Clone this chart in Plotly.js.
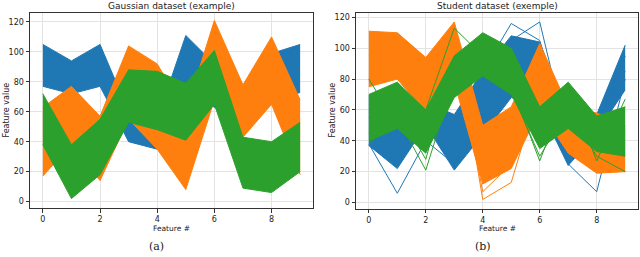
<!DOCTYPE html>
<html><head><meta charset="utf-8">
<script src="https://cdn.plot.ly/plotly-3.0.1.min.js"></script>
<style>html,body{margin:0;padding:0;background:#fff}#chart{width:640px;height:257px}</style>
</head><body><div id="chart"></div>
<script>
// Feature indices
const features = [0,1,2,3,4,5,6,7,8,9];
const xTicks = [0,2,4,6,8];
const yTicks = [0,20,40,60,80,100,120];

// Gaussian dataset: per-class lower / upper envelope of the bundle of lines
const gaussBlueLo   = [77, 72, 77, 40, 35, 75, 63, 50, 65, 73];
const gaussBlueHi   = [105, 94, 105, 60, 55, 111, 92, 75, 99, 105];
const gaussOrangeLo = [17, 38, 14, 55, 35, 8, 68, 43, 65, 18];
const gaussOrangeHi = [63, 77, 57, 104, 92, 60, 121, 78, 110, 68];
const gaussGreenLo  = [38, 2, 18, 53, 48, 41, 65, 9, 6, 20];
const gaussGreenHi  = [72, 38, 55, 88, 87, 79, 101, 43, 40, 53];

// Student dataset: envelopes
const studBlueLo   = [37, 22, 50, 21, 44, 68, 62, 24, 45, 73];
const studBlueHi   = [69, 52, 65, 57, 85, 108, 104, 55, 57, 102];
const studOrangeLo = [75, 80, 58, 78, 12, 22, 60, 32, 19, 20];
const studOrangeHi = [111, 110, 94, 117, 50, 62, 103, 62, 58, 50];
const studGreenLo  = [40, 48, 32, 68, 82, 70, 35, 48, 33, 30];
const studGreenHi  = [70, 78, 60, 95, 110, 100, 62, 78, 56, 62];

// Student dataset: individual outlying samples
const studBlueOut1 = [38, 6, 40, 25, 55, 80, 70, 25, 7, 80];
const studBlueOut2 = [60, 45, 62, 50, 85, 116, 105, 45, 50, 95];
const studBlueOut3 = [55, 40, 60, 45, 80, 105, 117, 40, 48, 85];
const studOrangeOut1 = [100, 95, 70, 112, 2, 13, 75, 45, 25, 30];
const studOrangeOut2 = [95, 100, 80, 105, 7, 25, 80, 50, 22, 35];
const studOrangeOut3 = [80, 82, 60, 85, 15, 45, 95, 55, 52, 20];
const studGreenOut1 = [80, 50, 60, 113, 95, 85, 50, 65, 40, 62];
const studGreenOut2 = [45, 55, 21, 80, 90, 75, 27, 75, 27, 67];
const studGreenOut3 = [37, 60, 28, 95, 100, 72, 30, 60, 30, 20];

const C_BLUE = '#1f77b4', C_ORANGE = '#ff7f0e', C_GREEN = '#2ca02c';

function band(lo, hi, color, xa, ya) {
  return [
    {x: features, y: lo, xaxis: xa, yaxis: ya, mode: 'lines', line: {color: color, width: 1}, hoverinfo: 'skip'},
    {x: features, y: hi, xaxis: xa, yaxis: ya, mode: 'lines', line: {color: color, width: 1},
     fill: 'tonexty', fillcolor: color, hoverinfo: 'skip'}
  ];
}
function line(v, color, xa, ya) {
  return {x: features, y: v, xaxis: xa, yaxis: ya, mode: 'lines', line: {color: color, width: 1}, hoverinfo: 'skip'};
}

const traces = [].concat(
  band(gaussBlueLo, gaussBlueHi, C_BLUE, 'x', 'y'),
  band(gaussOrangeLo, gaussOrangeHi, C_ORANGE, 'x', 'y'),
  band(gaussGreenLo, gaussGreenHi, C_GREEN, 'x', 'y'),
  band(studBlueLo, studBlueHi, C_BLUE, 'x2', 'y2'),
  [line(studBlueOut1, C_BLUE, 'x2', 'y2'), line(studBlueOut2, C_BLUE, 'x2', 'y2'), line(studBlueOut3, C_BLUE, 'x2', 'y2')],
  band(studOrangeLo, studOrangeHi, C_ORANGE, 'x2', 'y2'),
  [line(studOrangeOut1, C_ORANGE, 'x2', 'y2'), line(studOrangeOut2, C_ORANGE, 'x2', 'y2'), line(studOrangeOut3, C_ORANGE, 'x2', 'y2')],
  band(studGreenLo, studGreenHi, C_GREEN, 'x2', 'y2'),
  [line(studGreenOut1, C_GREEN, 'x2', 'y2'), line(studGreenOut2, C_GREEN, 'x2', 'y2'), line(studGreenOut3, C_GREEN, 'x2', 'y2')]
);

const FONT = 'DejaVu Sans, sans-serif';
function xax(domain, anchor) {
  return {domain: domain, anchor: anchor, range: [-0.45, 9.45], tickvals: xTicks, ticks: 'outside', ticklen: 3.5,
    tickcolor: '#333', showline: true, mirror: true, linecolor: '#333', linewidth: 1,
    showgrid: true, gridcolor: '#e3e3e3', gridwidth: 1, zeroline: false,
    tickfont: {family: FONT, size: 8, color: '#222'}};
}
function yax(domain, anchor, range) {
  return {domain: domain, anchor: anchor, range: range, tickvals: yTicks, ticks: 'outside', ticklen: 3.5,
    tickcolor: '#333', showline: true, mirror: true, linecolor: '#333', linewidth: 1,
    showgrid: true, gridcolor: '#e3e3e3', gridwidth: 1, zeroline: false,
    tickfont: {family: FONT, size: 8, color: '#222'}};
}

function ann(text, x, y, size, family, angle) {
  return {text: text, x: x, y: y, xref: 'paper', yref: 'paper', showarrow: false, xanchor: 'center', yanchor: 'middle',
    font: {family: family || FONT, size: size, color: '#222'}, textangle: angle || 0};
}

const layout = {
  width: 640, height: 257, margin: {l: 0, r: 0, t: 0, b: 0},
  paper_bgcolor: '#fff', plot_bgcolor: '#fff', showlegend: false,
  xaxis: xax([30/640, 313/640], 'y'),
  yaxis: yax([1 - 208/257, 1 - 13/257], 'x', [-4.3, 126]),
  xaxis2: xax([356/640, 638/640], 'y2'),
  yaxis2: yax([1 - 208.7/257, 1 - 13/257], 'x2', [-4, 122.8]),
  annotations: [
    ann('Gaussian dataset (example)', 171.5/640, 1 - 5.5/257, 9),
    ann('Student dataset (exemple)', 497/640, 1 - 5.5/257, 9),
    ann('Feature #', 171.5/640, 1 - 228.5/257, 7.5),
    ann('Feature #', 497/640, 1 - 228.5/257, 7.5),
    ann('Feature value', 5.5/640, 1 - 110/257, 8, FONT, -90),
    ann('Feature value', 331.5/640, 1 - 110/257, 8, FONT, -90),
    ann('(a)', 156/640, 1 - 246.5/257, 11, 'DejaVu Serif, serif'),
    ann('(b)', 483/640, 1 - 246.5/257, 11, 'DejaVu Serif, serif')
  ]
};

Plotly.newPlot('chart', traces, layout, {staticPlot: true, displayModeBar: false});
</script>
</body></html>
